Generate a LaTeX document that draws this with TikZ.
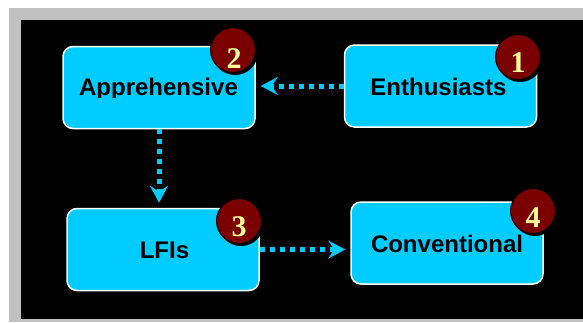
\documentclass[tikz,border=0pt]{standalone}
\usepackage{fontspec}
\setmainfont{Liberation Sans}
\newfontfamily\digitfont{Liberation Serif}
\usetikzlibrary{arrows.meta}
\definecolor{boxcyan}{HTML}{00CCFF}
\definecolor{badgered}{HTML}{7A0000}
\definecolor{badgetext}{HTML}{FFFF99}
\definecolor{framegray}{HTML}{C0C0C0}
\tikzset{
  stage/.style={draw=white, line width=1.5pt, fill=boxcyan, rounded corners=10pt,
    minimum width=192pt, minimum height=82pt, inner sep=0pt},
  stagetext/.style={font=\fontsize{24}{28}\selectfont\bfseries, text=black,
    inner sep=0pt, anchor=base},
  badge/.style={circle, draw=black, line width=1pt, fill=badgered, minimum size=45pt,
    inner sep=0pt},
  badgeshadow/.style={circle, fill=black, minimum size=46pt, inner sep=0pt},
  digit/.style={font=\digitfont\fontsize{30}{32}\selectfont\bfseries, text=badgetext,
    inner sep=0pt, anchor=base},
  flow/.style={draw=boxcyan, line width=5pt, dash pattern=on 5pt off 5pt,
    -{Stealth[length=17pt, width=18pt, inset=6pt]}, shorten >=5pt}
}
\begin{document}
\begin{tikzpicture}[x=1pt, y=-1pt]
  % page, grey frame and black panel
  \useasboundingbox (0,0) rectangle (583,322);
  \fill[white] (0,0) rectangle (583,322);
  \fill[framegray] (9,8) rectangle (583,322);
  \fill[black] (21,20) rectangle (583,319);

  % stage boxes
  \node[stage] (app)  at (159,87.5) {};
  \node[stage] (enth) at (440.5,86) {};
  \node[stage] (lfi)  at (163,249.5) {};
  \node[stage] (conv) at (447,243) {};

  % labels (the first one is cut off just below its baseline)
  \begin{scope}
    \clip (0,0) rectangle (583,97);
    \node[stagetext] (apptxt) at (158.5,95) {Apprehensive};
  \end{scope}
  \node[stagetext] (enthtxt) at (438.5,95) {Enthusiasts};
  \node[stagetext] (lfitxt)  at (164.5,258) {LFIs};
  \node[stagetext] (convtxt) at (447,252) {Conventional};

  % numbered badges, each with a small drop shadow
  \node[badgeshadow] (s2) at (235,52) {};
  \node[badgeshadow] (s1) at (520,59) {};
  \node[badgeshadow] (s3) at (241,223) {};
  \node[badgeshadow] (s4) at (535,213) {};
  \node[badge] (b2) at (233,50) {};
  \node[badge] (b1) at (518,57) {};
  \node[badge] (b3) at (239,221) {};
  \node[badge] (b4) at (533,211) {};
  \node[digit] (d2) at (234,68) {2};
  \node[digit] (d1) at (518,72) {1};
  \node[digit] (d3) at (239,236) {3};
  \node[digit] (d4) at (533,227) {4};

  % dotted flow arrows
  \draw[flow] (enth.west) -- (enth.west -| app.east);
  \draw[flow] (app.south) -- (app.south |- lfi.north);
  \draw[flow] (lfi.east) -- (lfi.east -| conv.west);
\end{tikzpicture}
\end{document}
